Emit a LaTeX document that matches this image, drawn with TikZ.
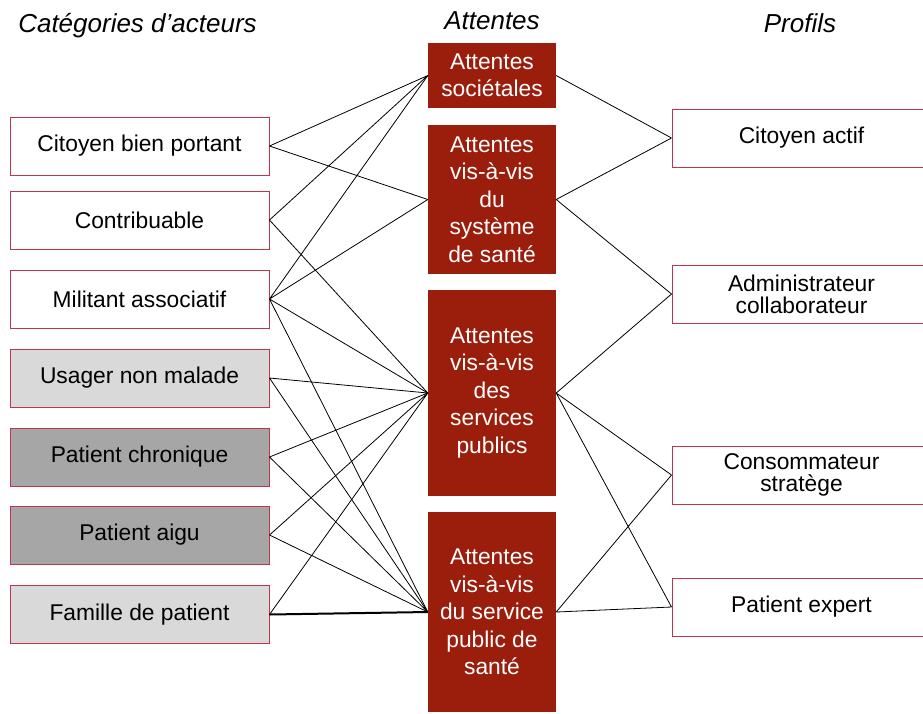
\documentclass[tikz,border=0pt]{standalone}
\usepackage{fontspec}
\setmainfont{Liberation Sans}
\definecolor{bord}{RGB}{192,52,80}
\definecolor{brique}{RGB}{155,29,12}
\definecolor{grisclair}{RGB}{217,217,217}
\definecolor{grisfonce}{RGB}{166,166,166}

\begin{document}
\begin{tikzpicture}[x=1pt,y=-1pt,
  acteur/.style={draw=bord,line width=1pt,minimum width=259pt,minimum height=58pt,inner sep=0pt,align=center,font=\fontsize{22.8}{22}\selectfont},
  attente/.style={fill=brique,text=white,minimum width=128pt,inner sep=0pt,align=center,font=\fontsize{22.8}{27.5}\selectfont},
  titre/.style={anchor=base,font=\fontsize{26}{30}\selectfont\itshape},
  lien/.style={line width=0.8pt}]
\useasboundingbox (0,0) rectangle (923,713);
\node[titre] (tcat) at (137.5,32) {Catégories d’acteurs};
\node[titre] (tatt) at (492,29) {Attentes};
\node[titre] (tpro) at (800,32) {Profils};
\node[acteur] (C1) at (139.5,146) {Citoyen bien portant};
\node[acteur] (C2) at (139.5,220) {Contribuable};
\node[acteur] (C3) at (139.5,299) {Militant associatif};
\node[acteur,fill=grisclair] (C4) at (139.5,378) {Usager non malade};
\node[acteur,fill=grisfonce] (C5) at (139.5,457) {Patient chronique};
\node[acteur,fill=grisfonce] (C6) at (139.5,535) {Patient aigu};
\node[acteur,fill=grisclair] (C7) at (139.5,614.5) {Famille de patient};
\node[attente,minimum height=65pt] (A1) at (492,75.5) {Attentes\\sociétales};
\node[attente,minimum height=149pt] (A2) at (492,199.5) {Attentes\\vis-à-vis\\du\\système\\de santé};
\node[attente,minimum height=206pt] (A3) at (492,393) {Attentes\\vis-à-vis\\des\\services\\publics};
\node[attente,minimum height=200pt] (A4) at (492,612) {Attentes\\vis-à-vis\\du service\\public de\\santé};
\node[acteur] (P1) at (801.5,138) {Citoyen actif};
\node[acteur] (P2) at (801.5,294) {Administrateur\\collaborateur};
\node[acteur] (P3) at (801.5,475) {Consommateur\\stratège};
\node[acteur] (P4) at (801.5,607) {Patient expert};
\draw[lien] (C1.east)--(A1.west) (C1.east)--(A2.west) (C2.east)--(A1.west) (C2.east)--(A3.west);
\draw[lien] (C3.east)--(A1.west) (C3.east)--(A2.west) (C3.east)--(A3.west) (C3.east)--(A4.west);
\draw[lien] (C4.east)--(A3.west) (C4.east)--(A4.west) (C5.east)--(A3.west) (C5.east)--(A4.west);
\draw[lien] (C6.east)--(A3.west) (C6.east)--(A4.west) (C7.east)--(A3.west);
\draw[line width=2pt] (C7.east)--(A4.west);
\draw[lien] (A1.east)--(P1.west) (A2.east)--(P1.west) (A2.east)--(P2.west);
\draw[lien] (A3.east)--(P2.west) (A3.east)--(P3.west) (A3.east)--(P4.west) (A4.east)--(P3.west) (A4.east)--(P4.west);
\end{tikzpicture}
\end{document}
